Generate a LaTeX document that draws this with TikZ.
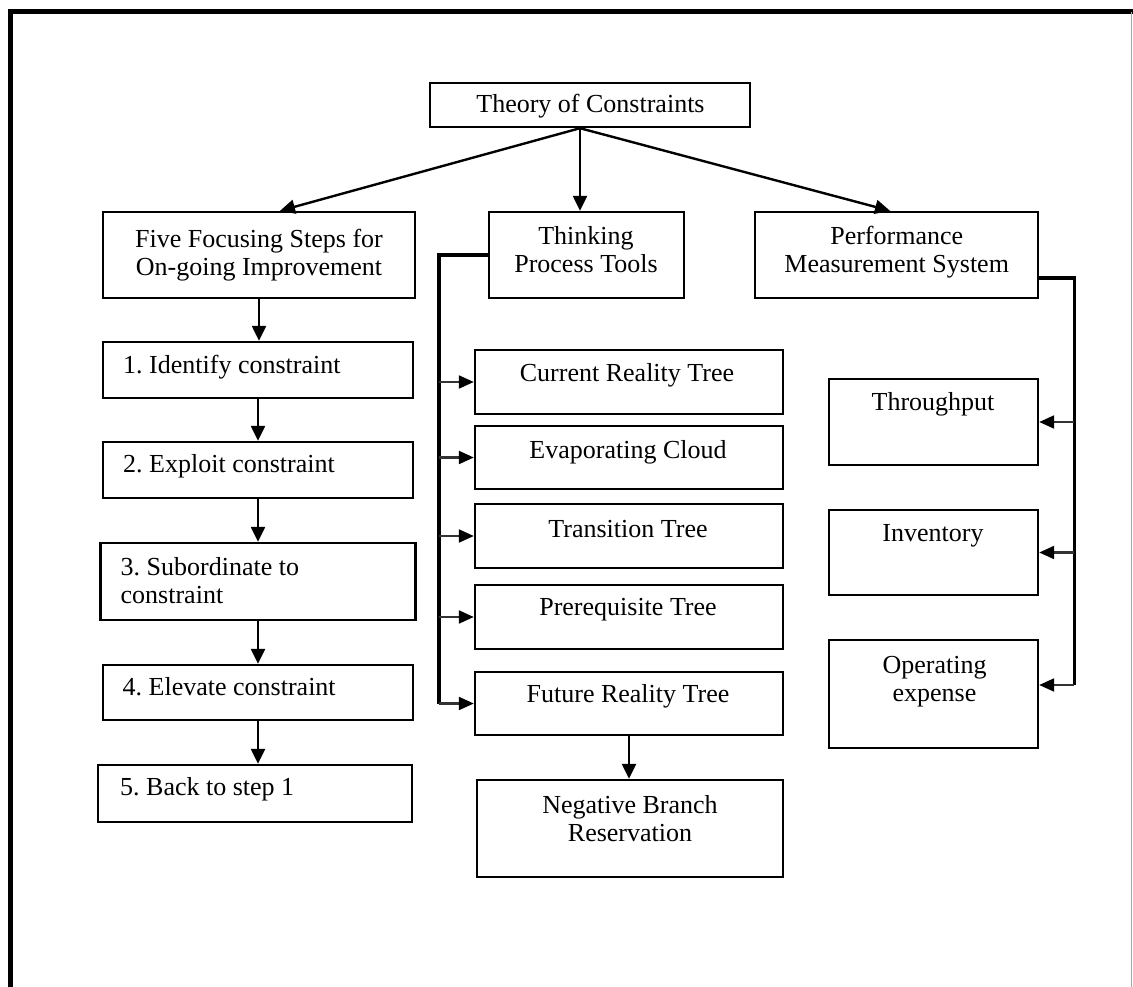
\documentclass[tikz,border=0pt]{standalone}
\usepackage{fontspec}
\setmainfont{Liberation Serif}
\usetikzlibrary{calc,arrows.meta}
\frenchspacing
\begin{document}
\begin{tikzpicture}[x=1pt,y=-1pt,
  box/.style={draw, line width=2.4pt, inner sep=0pt},
  txt/.style={anchor=base, inner sep=0pt, font=\fontsize{26}{28}\selectfont},
  ltxt/.style={anchor=base west, inner sep=0pt, font=\fontsize{26}{28}\selectfont},
  arr/.style={line width=2.4pt, -{Triangle[length=15pt,width=14pt]}},
  thinarr/.style={line width=2.2pt, draw=black!80, -{Triangle[length=15pt,width=13pt,color=black,fill=black]}},
  bracket/.style={line width=3.4pt},
  frame/.style={line width=5.5pt}
]
\useasboundingbox (0,0) rectangle (1133,987);
% outer frame
\draw[frame] (10.3,987) -- (10.3,11.7) -- (1133,11.7);
\draw[line width=1pt, black!35] (1131.5,11.7) -- (1131.5,987);

% top
\node[box, minimum width=320pt, minimum height=44pt] (toc) at (590,105) {};
\node[txt] (ttoc) at (590.5,113) {Theory of Constraints};

% second row
\node[box, minimum width=312pt, minimum height=86pt] (ffs) at (259,255) {};
\node[txt] (tffs) at (259,248) {\begin{tabular}[t]{@{}c@{}}Five Focusing Steps for\\On-going Improvement\end{tabular}};
\node[box, minimum width=195pt, minimum height=86pt] (tpt) at (586.5,255) {};
\node[txt] (ttpt) at (586,245) {\begin{tabular}[t]{@{}c@{}}Thinking\\Process Tools\end{tabular}};
\node[box, minimum width=283pt, minimum height=86pt] (pms) at (896.5,255) {};
\node[txt] (tpms) at (896.7,245) {\begin{tabular}[t]{@{}c@{}}Performance\\Measurement System\end{tabular}};

% steps
\node[box, minimum width=310pt, minimum height=56pt] (s1) at (258,370) {};
\node[ltxt] (ts1) at (123,373) {1. Identify constraint};
\node[box, minimum width=310pt, minimum height=56pt] (s2) at (258,470) {};
\node[ltxt] (ts2) at (123,472) {2. Exploit constraint};
\node[box, minimum width=315pt, minimum height=77pt] (s3) at (258,581.5) {};
\node[ltxt] (ts3) at (120.5,575) {\begin{tabular}[t]{@{}l@{}}3. Subordinate to\\constraint\end{tabular}};
\node[box, minimum width=310pt, minimum height=55pt] (s4) at (258,692.5) {};
\node[ltxt] (ts4) at (122.5,695) {4. Elevate constraint};
\node[box, minimum width=314pt, minimum height=57pt] (s5) at (255,793.5) {};
\node[ltxt] (ts5) at (120,795) {5. Back to step 1};

% thinking process tools
\node[box, minimum width=308pt, minimum height=64pt] (crt) at (629,382) {};
\node[txt] (tcrt) at (627,381) {Current Reality Tree};
\node[box, minimum width=308pt, minimum height=63pt] (ec) at (629,457.5) {};
\node[txt] (tec) at (628,458) {Evaporating Cloud};
\node[box, minimum width=308pt, minimum height=64pt] (tt) at (629,536) {};
\node[txt] (ttt) at (628,537) {Transition Tree};
\node[box, minimum width=308pt, minimum height=64pt] (prt) at (629,617) {};
\node[txt] (tprt) at (628,615) {Prerequisite Tree};
\node[box, minimum width=308pt, minimum height=63pt] (frt) at (629,703.5) {};
\node[txt] (tfrt) at (628,702) {Future Reality Tree};
\node[box, minimum width=306pt, minimum height=97pt] (nbr) at (630,828.5) {};
\node[txt] (tnbr) at (630,813) {\begin{tabular}[t]{@{}c@{}}Negative Branch\\Reservation\end{tabular}};

% performance measures
\node[box, minimum width=209pt, minimum height=86pt] (thr) at (933.5,422) {};
\node[txt] (tthr) at (933,410) {Throughput};
\node[box, minimum width=209pt, minimum height=85pt] (inv) at (933.5,552.5) {};
\node[txt] (tinv) at (933,541) {Inventory};
\node[box, minimum width=209pt, minimum height=108pt] (opx) at (933.5,694) {};
\node[txt] (topx) at (934.5,673) {\begin{tabular}[t]{@{}c@{}}Operating\\expense\end{tabular}};

% arrows from top
\coordinate (o) at ($(toc.south)+(-10,0)$);
\draw[arr] (o) -- ($(ffs.north)+(21,0)$);
\draw[arr] (o) -- ($(tpt.north)+(-6.5,0)$);
\draw[arr] (o) -- ($(pms.north)+(-6.5,0)$);

% step chain
\draw[arr] (ffs.south) -- (ffs.south |- s1.north);
\draw[arr] (s1.south) -- (s2.north);
\draw[arr] (s2.south) -- (s2.south |- s3.north);
\draw[arr] (s3.south) -- (s3.south |- s4.north);
\draw[arr] (s4.south) -- (s4.south |- s5.north);

% thinking bracket
\coordinate (tb) at ($(frt.west)+(-35,0)$);
\draw[bracket] (tpt.west) -| (tb);
\draw[thinarr] (tb |- crt.west) -- (crt.west);
\draw[thinarr] (tb |- ec.west) -- (ec.west);
\draw[thinarr] (tb |- tt.west) -- (tt.west);
\draw[thinarr] (tb |- prt.west) -- (prt.west);
\draw[thinarr] (tb) -- (frt.west);
\draw[arr] (frt.south) -- (frt.south |- nbr.north);

% performance bracket
\coordinate (pa) at ($(pms.east)+(0,23)$);
\coordinate (pb) at ($(pa)+(35,407)$);
\draw[bracket] (pa) -| (pb);
\draw[thinarr] (pb |- thr.east) -- (thr.east);
\draw[thinarr] (pb |- inv.east) -- (inv.east);
\draw[thinarr] (pb) -- (pb -| opx.east);
\end{tikzpicture}
\end{document}
